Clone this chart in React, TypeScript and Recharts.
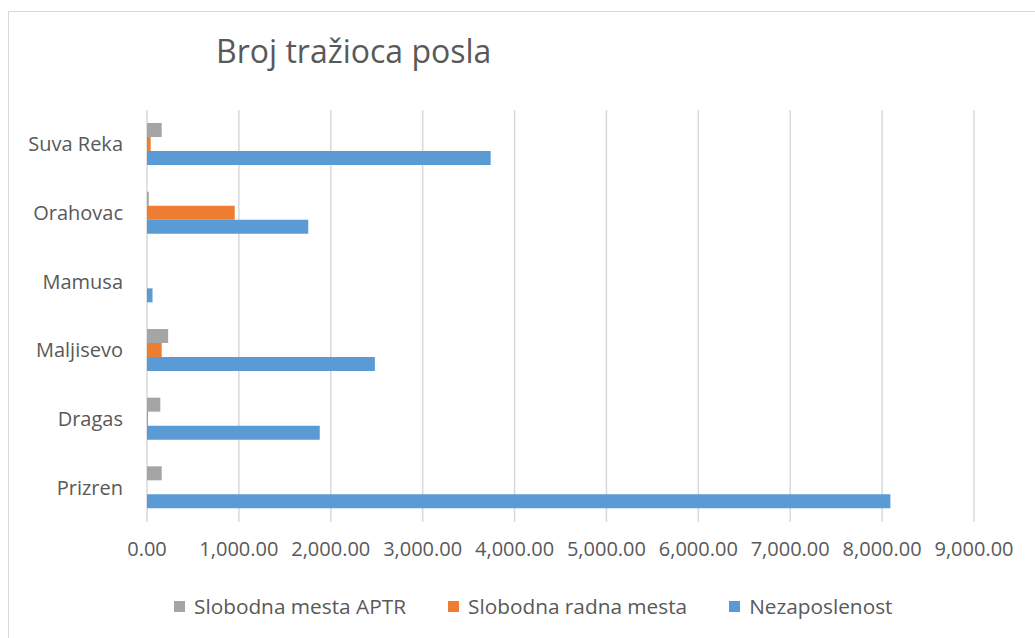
import { BarChart, Bar, XAxis, YAxis, CartesianGrid, Legend } from 'recharts'

const opstine = ['Suva Reka', 'Orahovac', 'Mamusa', 'Maljisevo', 'Dragas', 'Prizren']
const slobodnaMestaAPTR = [160, 20, 0, 230, 145, 160]
const slobodnaRadnaMesta = [40, 955, 0, 160, 10, 0]
const nezaposlenost = [3740, 1755, 60, 2480, 1880, 8090]
const xTicks = [0, 1000, 2000, 3000, 4000, 5000, 6000, 7000, 8000, 9000]

const series = [
  { key: 'aptr', name: 'Slobodna mesta APTR', color: '#a5a5a5' },
  { key: 'radna', name: 'Slobodna radna mesta', color: '#ed7d31' },
  { key: 'nez', name: 'Nezaposlenost', color: '#5b9bd5' },
]

const data = opstine.map((name, i) => ({
  name,
  aptr: slobodnaMestaAPTR[i],
  radna: slobodnaRadnaMesta[i],
  nez: nezaposlenost[i],
}))

const FONT = '"Open Sans", "DejaVu Sans", sans-serif'
const TEXT = '#595959'

const fmt = (v: number) =>
  v.toLocaleString('en-US', { minimumFractionDigits: 2, maximumFractionDigits: 2 })

function LegendContent() {
  return (
    <div style={{ display: 'flex', paddingLeft: 174, fontFamily: FONT, fontSize: 20.8, color: TEXT }}>
      {series.map((s) => (
        <div key={s.key} style={{ display: 'flex', alignItems: 'center', marginRight: 42 }}>
          <span style={{ width: 11, height: 11, background: s.color, marginRight: 9, display: 'inline-block' }} />
          <span>{s.name}</span>
        </div>
      ))}
    </div>
  )
}

export default function App() {
  return (
    <div style={{ position: 'fixed', left: 0, top: 0, width: 1035, height: 638, background: '#fff', overflow: 'hidden' }}>
      <div
        style={{
          position: 'absolute',
          left: 8,
          top: 11,
          width: 1040,
          height: 640,
          border: '1px solid #d9d9d9',
        }}
      />
      <div
        style={{
          position: 'absolute',
          left: 216,
          top: 30,
          fontFamily: FONT,
          fontSize: 32,
          color: TEXT,
          lineHeight: '42px',
          whiteSpace: 'nowrap',
        }}
      >
        Broj tražioca posla
      </div>
      <div style={{ position: 'absolute', left: 0, top: 0 }}>
        <BarChart
          width={1035}
          height={638}
          data={data}
          layout="vertical"
          margin={{ top: 110, right: 61, bottom: 58, left: 20 }}
          barGap={0}
          barSize={14}
        >
          <CartesianGrid horizontal={false} stroke="#d9d9d9" strokeWidth={1.5} />
          <XAxis
            type="number"
            domain={[0, 9000]}
            ticks={xTicks}
            tickFormatter={fmt}
            axisLine={false}
            tickLine={false}
            tickSize={0}
            tickMargin={20}
            height={30}
            interval={0}
            tick={{ fill: TEXT, fontSize: 20, fontFamily: FONT }}
          />
          <YAxis
            type="category"
            dataKey="name"
            width={127}
            axisLine={false}
            tickLine={false}
            tickSize={0}
            tickMargin={24}
            tick={{ fill: TEXT, fontSize: 20, fontFamily: FONT }}
          />
          <Legend
            verticalAlign="bottom"
            content={<LegendContent />}
            wrapperStyle={{ top: 592, bottom: 'auto', left: 0, width: 1035 }}
          />
          {series.map((s) => (
            <Bar key={s.key} dataKey={s.key} name={s.name} fill={s.color} isAnimationActive={false} />
          ))}
        </BarChart>
      </div>
    </div>
  )
}
